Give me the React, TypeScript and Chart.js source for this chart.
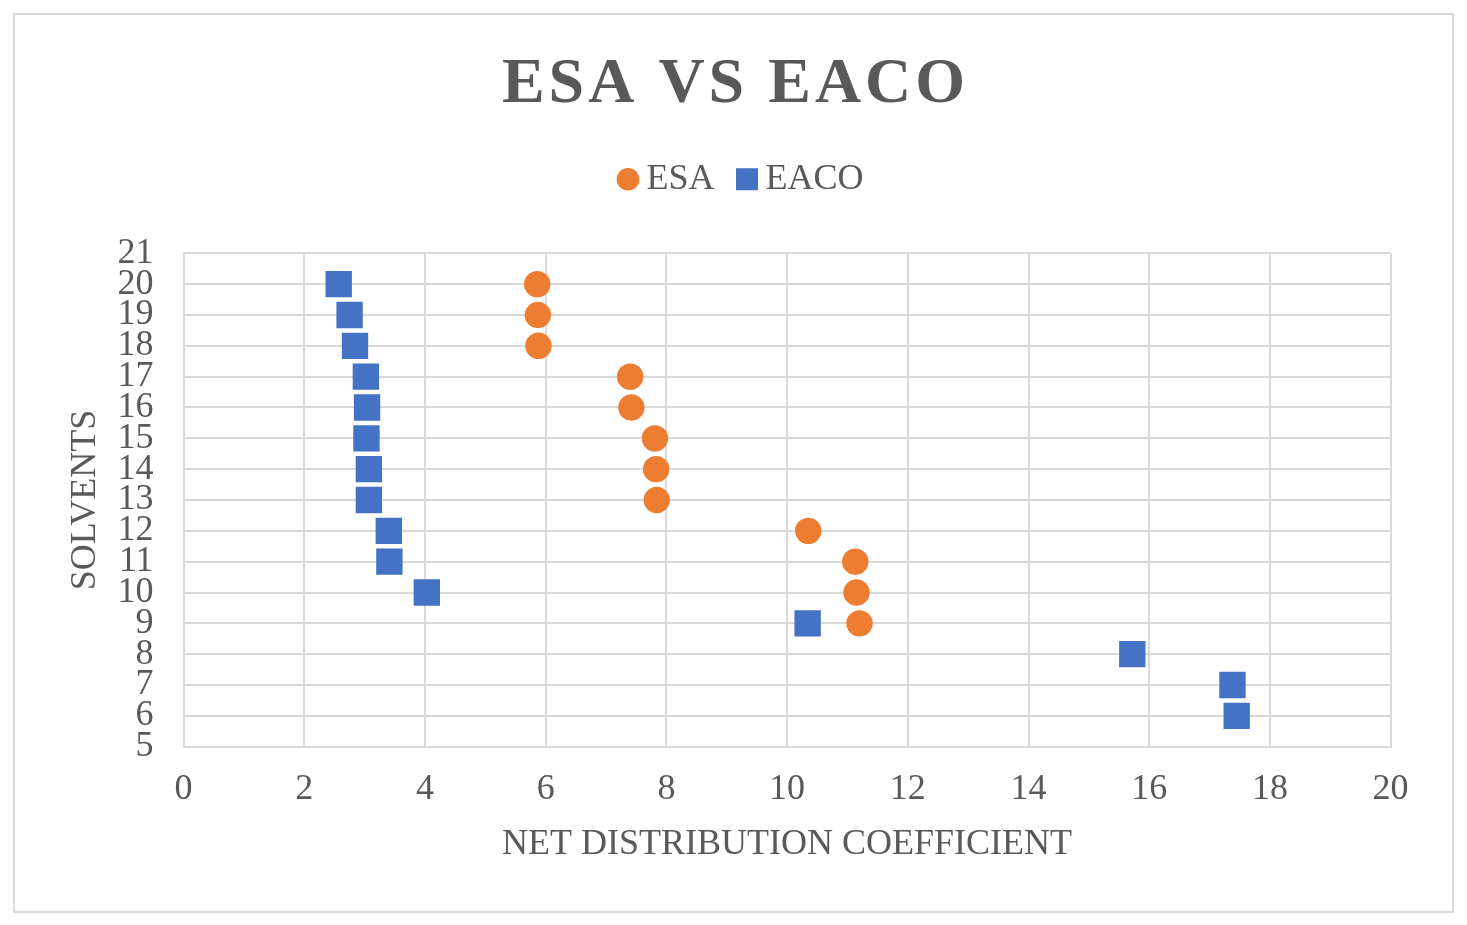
import React, { useEffect, useRef } from 'react';
import { Chart, registerables } from 'chart.js';

Chart.register(...registerables);

// chart text
const chartTitle = 'ESA VS EACO';
const xAxisTitle = 'NET DISTRIBUTION COEFFICIENT';
const yAxisTitle = 'SOLVENTS';

// ESA series: solvent number vs net distribution coefficient
const esaSolvents = [20, 19, 18, 17, 16, 15, 14, 13, 12, 11, 10, 9];
const esaCoefficients = [5.86, 5.87, 5.88, 7.4, 7.42, 7.81, 7.83, 7.84, 10.35, 11.13, 11.15, 11.2];

// EACO series
const eacoSolvents = [20, 19, 18, 17, 16, 15, 14, 13, 12, 11, 10, 9, 8, 7, 6];
const eacoCoefficients = [2.57, 2.75, 2.84, 3.02, 3.04, 3.03, 3.07, 3.07, 3.4, 3.41, 4.03, 10.34, 15.72, 17.38, 17.45];

// axis ticks
const xTickValues = [0, 2, 4, 6, 8, 10, 12, 14, 16, 18, 20];
const yTickValues = [5, 6, 7, 8, 9, 10, 11, 12, 13, 14, 15, 16, 17, 18, 19, 20, 21];

const ORANGE = '#ED7D31';
const BLUE = '#4472C4';
const TEXT = '#595959';
const GRID = '#D9D9D9';
const FONT = '"Liberation Serif", "Times New Roman", serif';

// the title has wide letter spacing, which the built-in title can't do
const spacedTitle = {
  id: 'spacedTitle',
  afterDraw(chart: Chart) {
    const { ctx } = chart;
    ctx.save();
    ctx.font = `bold 64px ${FONT}`;
    ctx.fillStyle = TEXT;
    ctx.textAlign = 'center';
    ctx.textBaseline = 'alphabetic';
    (ctx as any).letterSpacing = '4px';
    ctx.fillText(chartTitle, chart.width / 2 + 2, 86.7);
    ctx.restore();
  },
};

const ScatterChart: React.FC = () => {
  const canvasRef = useRef<HTMLCanvasElement>(null);
  const chartRef = useRef<Chart | null>(null);

  useEffect(() => {
    if (!canvasRef.current) return;
    if (chartRef.current) chartRef.current.destroy();

    chartRef.current = new Chart(canvasRef.current, {
      type: 'scatter',
      data: {
        datasets: [
          {
            label: 'ESA',
            data: esaCoefficients.map((x, i) => ({ x, y: esaSolvents[i] })),
            pointStyle: 'circle',
            pointRadius: 13.2,
            pointBorderWidth: 0,
            backgroundColor: ORANGE,
            borderColor: ORANGE,
          },
          {
            label: 'EACO',
            data: eacoCoefficients.map((x, i) => ({ x, y: eacoSolvents[i] })),
            pointStyle: 'rect',
            pointRadius: 14.4,
            pointBorderWidth: 6,
            backgroundColor: BLUE,
            borderColor: BLUE,
          },
        ],
      },
      options: {
        responsive: true,
        maintainAspectRatio: false,
        animation: false,
        events: [],
        layout: {
          padding: { top: 114.2, left: 24, right: 0, bottom: 0 },
        },
        scales: {
          x: {
            type: 'linear',
            min: 0,
            max: 20,
            afterBuildTicks: (scale: any) => {
              scale.ticks = xTickValues.map((value) => ({ value }));
            },
            afterFit: (scale: any) => {
              scale.height = 164.3;
              scale.paddingRight = 61.4;
            },
            grid: { color: GRID, lineWidth: 2, drawTicks: false },
            border: { color: GRID, width: 2 },
            ticks: {
              color: TEXT,
              padding: 21.7,
              font: { size: 36, family: FONT },
              maxRotation: 0,
              autoSkip: false,
            },
            title: {
              display: true,
              text: xAxisTitle,
              color: TEXT,
              font: { size: 36, family: FONT },
              padding: { top: 0, bottom: 44.6 },
            },
          },
          y: {
            type: 'linear',
            min: 5,
            max: 21,
            afterBuildTicks: (scale: any) => {
              scale.ticks = yTickValues.map((value) => ({ value }));
            },
            afterFit: (scale: any) => {
              scale.width = 144.6;
            },
            grid: { color: GRID, lineWidth: 2, drawTicks: false },
            border: { color: GRID, width: 2 },
            ticks: {
              color: TEXT,
              padding: 30,
              font: { size: 36, family: FONT },
              autoSkip: false,
            },
            title: {
              display: true,
              text: yAxisTitle,
              color: TEXT,
              font: { size: 36, family: FONT },
              padding: { top: 25.4, bottom: 0 },
            },
          },
        },
        plugins: {
          title: { display: false },
          // empty block that keeps a gap between the legend and the plot
          subtitle: {
            display: true,
            text: '',
            position: 'top',
            weight: 500,
            padding: 0,
            font: { size: 10, lineHeight: 4.61 },
          },
          legend: {
            display: true,
            position: 'top',
            labels: {
              usePointStyle: true,
              boxWidth: 1,
              boxHeight: 16,
              padding: 32,
              color: TEXT,
              font: { size: 36, family: FONT },
            },
          },
          tooltip: { enabled: false },
        },
      },
      plugins: [spacedTitle],
    });

    return () => {
      if (chartRef.current) {
        chartRef.current.destroy();
        chartRef.current = null;
      }
    };
  }, []);

  return (
    <div style={{ position: 'relative', width: 1437, height: 896 }}>
      <canvas ref={canvasRef} />
    </div>
  );
};

export default function App() {
  return (
    <div style={{ padding: '5px 0 0 5px', background: '#fff' }}>
      <div style={{ width: 1437, height: 896, border: `2px solid ${GRID}`, background: '#fff' }}>
        <ScatterChart />
      </div>
    </div>
  );
}
